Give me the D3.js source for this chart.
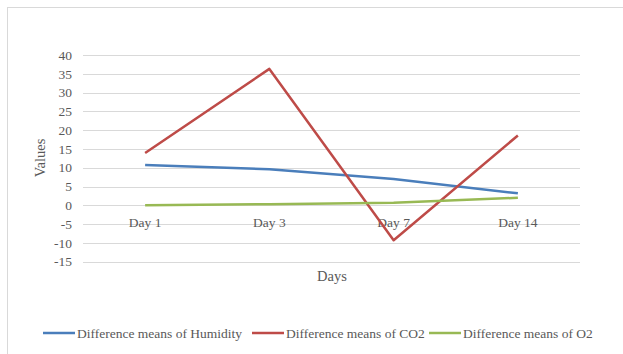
<!DOCTYPE html>
<html>
<head>
<meta charset="utf-8">
<script src="https://cdn.jsdelivr.net/npm/d3@7"></script>
<style>
  body { margin: 0; background: #fff; }
  text { font-family: "Liberation Serif", serif; fill: #595959; }
</style>
</head>
<body>
<script>
var days = ["Day 1", "Day 3", "Day 7", "Day 14"];
var humidity = [10.7, 9.6, 7.0, 3.2];
var co2 = [13.9, 36.3, -9.3, 18.6];
var o2 = [0.0, 0.3, 0.7, 2.0];
var seriesNames = ["Difference means of Humidity", "Difference means of CO2", "Difference means of O2"];
var seriesColors = ["#4a7ebb", "#be4b48", "#98b954"];
var yTicks = [-15, -10, -5, 0, 5, 10, 15, 20, 25, 30, 35, 40];

var width = 623, height = 354;

var svg = d3.select("body")
    .append("svg")
    .attr("width", width)
    .attr("height", height);

// chart border
svg.append("rect")
    .attr("x", 7.5)
    .attr("y", 7.5)
    .attr("width", 640)
    .attr("height", 360)
    .attr("fill", "none")
    .attr("stroke", "#d9d9d9");

var x = d3.scalePoint()
    .domain(days)
    .range([83, 580])
    .padding(0.5);

var y = d3.scaleLinear()
    .domain([-15, 40])
    .range([261.7, 55]);

// gridlines
svg.append("g")
    .selectAll("line")
    .data(yTicks)
    .enter()
    .append("line")
    .attr("x1", 83)
    .attr("x2", 580)
    .attr("y1", (d) => Math.round(y(d)) + 0.5)
    .attr("y2", (d) => Math.round(y(d)) + 0.5)
    .attr("stroke", "#d9d9d9")
    .attr("stroke-width", 1);

// y tick labels
svg.append("g")
    .selectAll("text")
    .data(yTicks)
    .enter()
    .append("text")
    .text((d) => d)
    .attr("x", 72)
    .attr("y", (d) => y(d))
    .attr("dy", "0.35em")
    .attr("text-anchor", "end")
    .attr("font-size", "13.5px");

// category labels
svg.append("g")
    .selectAll("text")
    .data(days)
    .enter()
    .append("text")
    .text((d) => d)
    .attr("x", (d) => x(d))
    .attr("y", y(0) + 17)
    .attr("dy", "0.35em")
    .attr("text-anchor", "middle")
    .attr("font-size", "13.5px");

// axis titles
svg.append("text")
    .text("Values")
    .attr("transform", "translate(40," + 158 + ") rotate(-90)")
    .attr("dy", "0.35em")
    .attr("text-anchor", "middle")
    .attr("font-size", "14.5px");

svg.append("text")
    .text("Days")
    .attr("x", 332)
    .attr("y", 276)
    .attr("dy", "0.35em")
    .attr("text-anchor", "middle")
    .attr("font-size", "14.5px");

// lines
var line = d3.line()
    .x((d, i) => x(days[i]))
    .y((d) => y(d));

svg.append("g")
    .selectAll("path")
    .data([humidity, co2, o2])
    .enter()
    .append("path")
    .attr("d", line)
    .attr("fill", "none")
    .attr("stroke", (d, i) => seriesColors[i])
    .attr("stroke-width", 2.5)
    .attr("stroke-linejoin", "round");

// legend
var legendX = [43, 252, 429];
var legend = svg.append("g")
    .selectAll("g")
    .data(seriesNames)
    .enter()
    .append("g")
    .attr("transform", (d, i) => "translate(" + legendX[i] + ",333)");

legend.append("line")
    .attr("x1", 0)
    .attr("x2", 32)
    .attr("stroke", (d, i) => seriesColors[i])
    .attr("stroke-width", 2.5);

legend.append("text")
    .text((d) => d)
    .attr("x", 34)
    .attr("dy", "0.35em")
    .attr("font-size", "13.5px");
</script>
</body>
</html>
